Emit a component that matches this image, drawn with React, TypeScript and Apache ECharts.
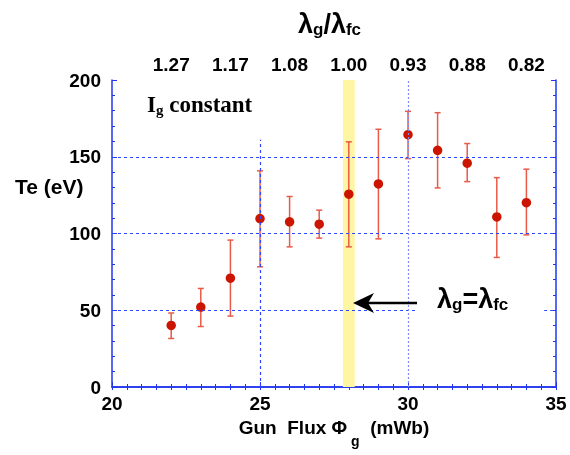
import React, { useEffect, useRef } from "react";
import * as echarts from "echarts";

const flux = [22, 23, 24, 25, 26, 27, 28, 29, 30, 31, 32, 33, 34];
const te = [40.1, 52.1, 70.9, 109.7, 107.6, 106.1, 125.6, 132.3, 164.4, 154.2, 145.8, 110.8, 120.1];
const teLow = [31.6, 39.4, 46.2, 78.3, 91.3, 97.0, 91.3, 96.5, 148.8, 129.7, 133.8, 84.4, 99.1];
const teHigh = [48.2, 64.2, 95.7, 140.8, 124.1, 115.2, 159.7, 167.9, 179.6, 178.7, 158.6, 136.4, 141.9];

const topTickValues = [22, 24, 26, 28, 30, 32, 34];
const topTickLabels = ["1.27", "1.17", "1.08", "1.00", "0.93", "0.88", "0.82"];

const bandRange = [27.8, 28.2];

// dashed reference lines [x1, y1, x2, y2]
const gridSegments = [
  [20, 50, 30.3, 50],
  [34.6, 50, 35, 50],
  [20, 100, 35, 100],
  [20, 150, 35, 150],
  [25, 0, 25, 161],
  [30, 0, 30, 200],
];

const BLUE = "#2236ee";
const GRID_BLUE = "#2f45ff";
const FONT = "Liberation Sans, Arial, sans-serif";

export default function App() {
  const ref = useRef<HTMLDivElement>(null);
  useEffect(() => {
    if (!ref.current) return;
    const chart = echarts.init(ref.current, null, { renderer: "svg" });
    const errData = flux.map((x, i) => [x, teLow[i], teHigh[i]]);
    const ptData = flux.map((x, i) => [x, te[i]]);
    const bigRich = {
      b: { fontSize: 27, fontWeight: "bold", fontFamily: FONT, color: "#000", lineHeight: 29 },
      s: { fontSize: 17, fontWeight: "bold", fontFamily: FONT, color: "#000", lineHeight: 17, padding: [12, 0, 0, 0] },
    };
    const axisLabelStyle = { fontSize: 19, fontWeight: "bold", fontFamily: FONT, color: "#000" };
    chart.setOption({
      animation: false,
      grid: { left: 112, right: 14, top: 80, bottom: 68 },
      xAxis: [
        {
          type: "value", min: 20, max: 35, interval: 5, position: "bottom",
          axisLine: { lineStyle: { color: BLUE, width: 1.5 } },
          axisTick: { inside: true, length: 5, lineStyle: { color: BLUE } },
          minorTick: { show: true, splitNumber: 10, length: 3, lineStyle: { color: BLUE } },
          splitLine: { show: false },
          axisLabel: { ...axisLabelStyle, margin: 7 },
          name: "Gun  Flux \u03A6{s| g}  (mWb)",
          nameLocation: "middle",
          nameGap: 19,
          nameTextStyle: {
            fontSize: 19, fontWeight: "bold", fontFamily: FONT, color: "#000",
            rich: {
              s: { fontSize: 14, fontWeight: "bold", fontFamily: FONT, color: "#000", padding: [28, 0, 0, 0] },
            },
          },
        },
        {
          type: "value", min: 20, max: 35, interval: 2, position: "top",
          axisLine: { lineStyle: { color: BLUE, width: 1.5 } },
          axisTick: { inside: true, length: 3, lineStyle: { color: BLUE } },
          minorTick: { show: true, splitNumber: 4, length: 3, lineStyle: { color: BLUE } },
          splitLine: { show: false },
          axisLabel: {
            ...axisLabelStyle, margin: 6,
            formatter: (v: number) => {
              const i = topTickValues.indexOf(Math.round(v));
              return i >= 0 && Math.abs(v - topTickValues[i]) < 1e-6 ? topTickLabels[i] : "";
            },
          },
        },
      ],
      yAxis: [
        {
          type: "value", min: 0, max: 200, interval: 50, position: "left",
          axisLine: { show: true, lineStyle: { color: BLUE, width: 1.5 } },
          axisTick: { show: true, inside: true, length: 5, lineStyle: { color: BLUE } },
          minorTick: { show: true, splitNumber: 5, length: 3, lineStyle: { color: BLUE } },
          splitLine: { show: false },
          axisLabel: { ...axisLabelStyle, margin: 11 },
        },
        {
          type: "value", min: 0, max: 200, interval: 50, position: "right",
          axisLine: { show: true, lineStyle: { color: BLUE, width: 1.5 } },
          axisTick: { show: true, inside: true, length: 5, lineStyle: { color: BLUE } },
          minorTick: { show: true, splitNumber: 5, length: 3, lineStyle: { color: BLUE } },
          splitLine: { show: false },
          axisLabel: { show: false },
        },
      ],
      series: [
        {
          type: "scatter",
          data: [],
          silent: true,
          z: 1,
          markArea: {
            silent: true,
            itemStyle: { color: "#fff6a3" },
            data: [[{ xAxis: bandRange[0], yAxis: 0 }, { xAxis: bandRange[1], yAxis: 200 }]],
          },
          markLine: {
            silent: true,
            symbol: ["none", "none"],
            label: { show: false },
            lineStyle: { color: GRID_BLUE, type: [3, 3], width: 1.2 },
            data: gridSegments.map((s) => [
              { coord: [s[0], s[1]], lineStyle: s[0] === 30 && s[2] === 30 ? { color: "#7d8cf2", type: [2, 2] } : undefined },
              { coord: [s[2], s[3]] },
            ]),
          },
        },
        {
          type: "custom",
          z: 3,
          data: errData,
          encode: { x: 0, y: [1, 2] },
          renderItem: (params: any, api: any) => {
            const x = api.value(0);
            const p1 = api.coord([x, api.value(1)]);
            const p2 = api.coord([x, api.value(2)]);
            const cap = 3;
            const st = { stroke: "#ea5a48", lineWidth: 1.5 };
            return {
              type: "group",
              children: [
                { type: "line", shape: { x1: p1[0], y1: p1[1], x2: p2[0], y2: p2[1] }, style: st },
                { type: "line", shape: { x1: p1[0] - cap, y1: p1[1], x2: p1[0] + cap, y2: p1[1] }, style: st },
                { type: "line", shape: { x1: p2[0] - cap, y1: p2[1], x2: p2[0] + cap, y2: p2[1] }, style: st },
              ],
            };
          },
        },
        {
          type: "scatter",
          z: 4,
          data: ptData,
          symbol: "circle",
          symbolSize: 9.5,
          itemStyle: { color: "#cc1500", opacity: 1 },
        },
      ],
      graphic: [
        {
          type: "text", left: 298, top: 9, z: 10,
          style: { text: "{b|\u03BB}{s|g}{b|/\u03BB}{s|fc}", rich: bigRich },
        },
        {
          type: "text", left: 437, top: 284, z: 10,
          style: { text: "{b|\u03BB}{s|g}{b|=\u03BB}{s|fc}", rich: bigRich },
        },
        {
          type: "text", left: 147, top: 92, z: 10,
          style: {
            text: "{b|I}{s|g}{b| constant}",
            rich: {
              b: { fontSize: 23, fontWeight: "bold", fontFamily: "Liberation Serif, Times New Roman, serif", color: "#000", lineHeight: 25 },
              s: { fontSize: 15, fontWeight: "bold", fontFamily: "Liberation Serif, Times New Roman, serif", color: "#000", lineHeight: 15, padding: [10, 0, 0, 0] },
            },
          },
        },
        {
          type: "text", left: 15, top: 176, z: 10,
          style: { text: "Te (eV)", fontSize: 21, fontWeight: "bold", fontFamily: FONT, fill: "#000" },
        },
        {
          type: "line", z: 10,
          shape: { x1: 417, y1: 303, x2: 366, y2: 303 },
          style: { stroke: "#000", lineWidth: 2.5 },
        },
        {
          type: "polygon", z: 10,
          shape: { points: [[353, 303], [374, 293], [368, 303], [374, 313]] },
          style: { fill: "#000" },
        },
      ],
    });
    return () => chart.dispose();
  }, []);
  return <div ref={ref} style={{ position: "fixed", left: 0, top: 0, width: 570, height: 455 }} />;
}
